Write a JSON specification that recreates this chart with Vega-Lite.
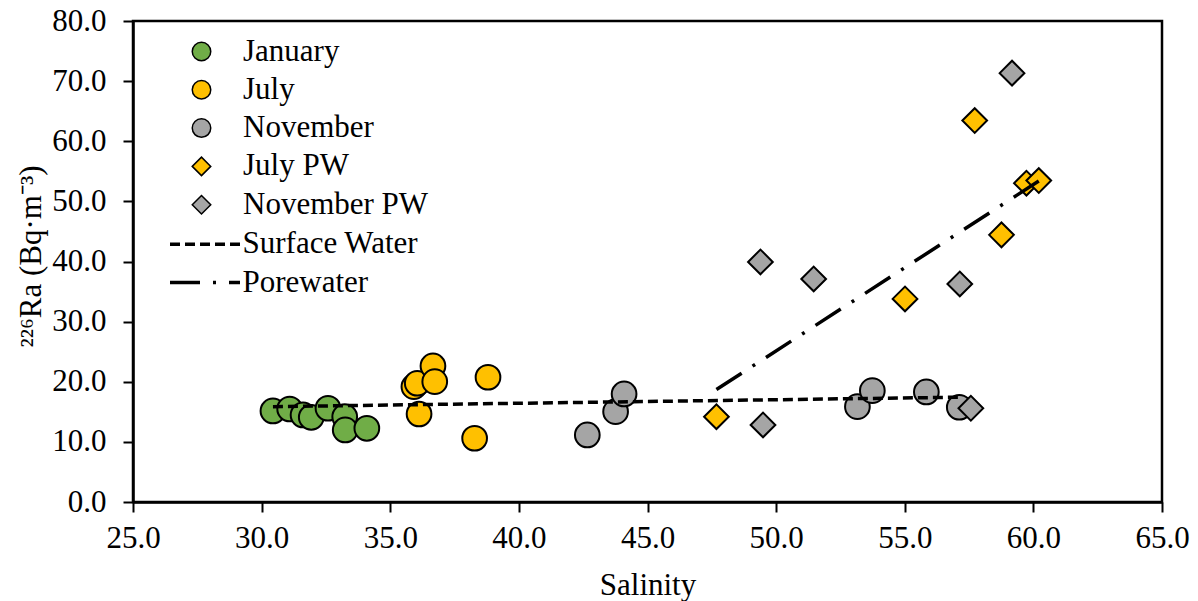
{
  "$schema": "https://vega.github.io/schema/vega-lite/v6.json",
  "width": 1029,
  "height": 481,
  "autosize": {"type": "none"},
  "padding": {"left": 133, "top": 21, "right": 36, "bottom": 99},
  "background": "white",
  "datasets": {
    "samples": [
      {"series": "January", "salinity": 30.44, "ra": 15.14},
      {"series": "January", "salinity": 31.09, "ra": 15.47},
      {"series": "January", "salinity": 31.61, "ra": 14.48},
      {"series": "January", "salinity": 31.93, "ra": 14.09},
      {"series": "January", "salinity": 32.58, "ra": 15.59},
      {"series": "January", "salinity": 33.23, "ra": 14.19},
      {"series": "January", "salinity": 33.25, "ra": 11.98},
      {"series": "January", "salinity": 34.09, "ra": 12.26},
      {"series": "July", "salinity": 35.92, "ra": 19.18},
      {"series": "July", "salinity": 36.05, "ra": 19.75},
      {"series": "July", "salinity": 36.66, "ra": 22.63},
      {"series": "July", "salinity": 36.73, "ra": 20.02},
      {"series": "July", "salinity": 38.8, "ra": 20.75},
      {"series": "July", "salinity": 36.12, "ra": 14.64},
      {"series": "July", "salinity": 38.28, "ra": 10.6},
      {"series": "November", "salinity": 42.66, "ra": 11.15},
      {"series": "November", "salinity": 43.76, "ra": 15.03},
      {"series": "November", "salinity": 44.09, "ra": 17.97},
      {"series": "November", "salinity": 53.16, "ra": 15.86},
      {"series": "November", "salinity": 53.74, "ra": 18.52},
      {"series": "November", "salinity": 55.84, "ra": 18.3},
      {"series": "November", "salinity": 57.12, "ra": 15.76},
      {"series": "July PW", "salinity": 47.68, "ra": 14.19},
      {"series": "July PW", "salinity": 55.01, "ra": 33.78},
      {"series": "July PW", "salinity": 58.76, "ra": 44.43},
      {"series": "July PW", "salinity": 57.72, "ra": 63.44},
      {"series": "July PW", "salinity": 59.73, "ra": 53.03},
      {"series": "July PW", "salinity": 60.21, "ra": 53.46},
      {"series": "November PW", "salinity": 49.49, "ra": 12.81},
      {"series": "November PW", "salinity": 49.39, "ra": 39.93},
      {"series": "November PW", "salinity": 51.46, "ra": 37.1},
      {"series": "November PW", "salinity": 57.14, "ra": 36.27},
      {"series": "November PW", "salinity": 59.17, "ra": 71.33},
      {"series": "November PW", "salinity": 57.57, "ra": 15.59}
    ],
    "trends": [
      {"trend": "Surface Water", "salinity": 30.44, "ra": 15.86},
      {"trend": "Surface Water", "salinity": 57.12, "ra": 17.43},
      {"trend": "Porewater", "salinity": 47.68, "ra": 18.72},
      {"trend": "Porewater", "salinity": 60.21, "ra": 53.38}
    ]
  },
  "layer": [
    {
      "data": {"name": "samples"},
      "mark": {"type": "point", "filled": true, "opacity": 1, "stroke": "black", "strokeWidth": 2, "size": 610},
      "encoding": {
        "x": {
          "field": "salinity", "type": "quantitative", "title": "Salinity",
          "scale": {"domain": [25, 65], "nice": false, "zero": false},
          "axis": {"values": [25, 30, 35, 40, 45, 50, 55, 60, 65], "format": ".1f", "labelPadding": 11, "titleY": 92, "titleBaseline": "alphabetic"}
        },
        "y": {
          "field": "ra", "type": "quantitative", "title": "²²⁶Ra (Bq·m⁻³)",
          "scale": {"domain": [0, 80], "nice": false},
          "axis": {"values": [0, 10, 20, 30, 40, 50, 60, 70, 80], "format": ".1f", "labelPadding": 17, "titleX": -102, "titleY": 235, "titleAlign": "center", "titleBaseline": "middle", "titleAngle": -90, "titleFontSize": 31}
        },
        "fill": {
          "field": "series", "type": "nominal",
          "scale": {"domain": ["January", "July", "November", "July PW", "November PW"], "range": ["#70AD47", "#FFC000", "#A5A5A5", "#FFC000", "#A5A5A5"]},
          "legend": {
            "title": null, "orient": "none", "legendX": 53, "legendY": 15,
            "symbolSize": 342, "symbolStrokeWidth": 1.5, "symbolStrokeColor": "black",
            "labelOffset": 26, "rowPadding": 6.3, "padding": 0
          }
        },
        "shape": {
          "field": "series", "type": "nominal",
          "scale": {"domain": ["January", "July", "November", "July PW", "November PW"], "range": ["circle", "circle", "circle", "diamond", "diamond"]}
        }
      }
    },
    {
      "data": {"name": "trends"},
      "mark": {"type": "line", "color": "black", "strokeWidth": 3.5, "strokeCap": "butt"},
      "encoding": {
        "x": {"field": "salinity", "type": "quantitative"},
        "y": {"field": "ra", "type": "quantitative"},
        "strokeDash": {
          "field": "trend", "type": "nominal",
          "scale": {"domain": ["Surface Water", "Porewater"], "range": [[10, 5], [30, 13, 3, 13]]},
          "legend": {
            "title": null, "orient": "none", "legendX": 56.5, "legendY": 207.8,
            "symbolType": "M-3.5,0H3.5", "symbolSize": 400, "symbolStrokeWidth": 3.5, "symbolStrokeColor": "black",
            "labelOffset": 22, "rowPadding": 6.3, "padding": 0
          }
        }
      }
    }
  ],
  "config": {
    "font": "Liberation Serif",
    "view": {"stroke": "black", "strokeWidth": 2.5},
    "axis": {
      "grid": false,
      "domainColor": "black", "domainWidth": 2.5,
      "tickColor": "black", "tickWidth": 2, "tickSize": 10,
      "labelFont": "Liberation Serif", "labelFontSize": 31, "labelColor": "black",
      "labelFlush": false, "labelOverlap": false,
      "titleFont": "Liberation Serif", "titleFontSize": 31, "titleColor": "black", "titleFontWeight": "normal"
    },
    "legend": {
      "labelFont": "Liberation Serif", "labelFontSize": 31, "labelColor": "black", "labelLimit": 0
    }
  }
}
